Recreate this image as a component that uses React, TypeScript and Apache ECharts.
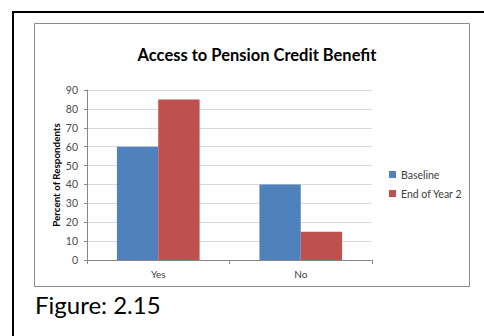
import React, { useEffect, useRef } from "react";
import * as echarts from "echarts";

const categories = ["Yes", "No"];
const baseline = [60, 40];
const endOfYear2 = [85, 15];
const seriesNames = ["Baseline", "End of Year 2"];
const titleText = "Access to Pension Credit Benefit";
const yAxisTitle = "Percent of Respondents";
const figureCaption = "Figure: 2.15";

const FONT = "Lato, 'Open Sans', 'DejaVu Sans', sans-serif";

export default function App() {
  const ref = useRef<HTMLDivElement>(null);
  useEffect(() => {
    if (!ref.current) return;
    const chart = echarts.init(ref.current, null, { renderer: "svg" });
    chart.setOption({
      animation: false,
      backgroundColor: "#ffffff",
      title: {
        text: titleText,
        left: 252,
        textAlign: "center",
        top: 41,
        textStyle: { fontFamily: FONT, fontSize: 16.5, fontWeight: "bold", color: "#000000" },
      },
      legend: {
        orient: "vertical",
        left: 384,
        top: 164,
        itemWidth: 7,
        itemHeight: 7,
        itemGap: 8,
        icon: "rect",
        data: seriesNames,
        textStyle: { fontFamily: FONT, fontSize: 10.5, color: "#404040" },
      },
      grid: { left: 87, right: 112, top: 90, bottom: 76 },
      xAxis: {
        type: "category",
        data: categories,
        axisLine: { lineStyle: { color: "#868686", width: 1 } },
        axisTick: { show: true, length: 4, lineStyle: { color: "#868686" } },
        axisLabel: { fontFamily: FONT, fontSize: 10, color: "#404040", margin: 9 },
      },
      yAxis: {
        type: "value",
        min: 0,
        max: 90,
        interval: 10,
        name: yAxisTitle,
        nameLocation: "middle",
        nameRotate: 90,
        nameGap: 26,
        nameMoveOverlap: false,
        nameTextStyle: { fontFamily: FONT, fontSize: 9.8, fontWeight: "bold", color: "#000000" },
        axisLine: { show: true, lineStyle: { color: "#868686", width: 1 } },
        axisTick: { show: true, length: 3, inside: false, lineStyle: { color: "#868686" } },
        axisLabel: { fontFamily: FONT, fontSize: 10.5, color: "#4a4a4a", margin: 9 },
        splitLine: { show: true, lineStyle: { color: "#D9D9D9", width: 1 } },
      },
      series: [
        {
          name: seriesNames[0],
          type: "bar",
          data: baseline,
          barGap: "0%",
          barCategoryGap: "42%",
          itemStyle: { color: "#4F81BD" },
        },
        {
          name: seriesNames[1],
          type: "bar",
          data: endOfYear2,
          barGap: "0%",
          barCategoryGap: "42%",
          itemStyle: { color: "#C0504D" },
        },
      ],
      graphic: [
        {
          type: "rect",
          shape: { x: 13, y: 12, width: 480, height: 340 },
          style: { fill: "none", stroke: "#000000", lineWidth: 2 },
          z: 100,
          silent: true,
        },
        {
          type: "rect",
          shape: { x: 34.5, y: 23.5, width: 435, height: 263 },
          style: { fill: "none", stroke: "#8C8C8C", lineWidth: 1 },
          z: 100,
          silent: true,
        },
        {
          type: "text",
          left: 35,
          top: 292,
          style: { text: figureCaption, fontFamily: FONT, fontSize: 24, fill: "#000000" },
        },
      ],
    });
    return () => chart.dispose();
  }, []);
  return (
    <div
      ref={ref}
      style={{ position: "fixed", left: 0, top: 0, width: 484, height: 336 }}
    />
  );
}
